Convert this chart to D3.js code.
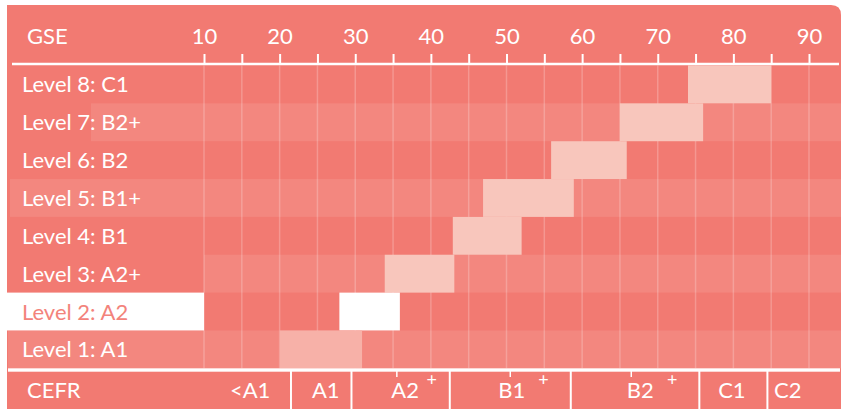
<!DOCTYPE html>
<html>
<head>
<meta charset="utf-8">
<script src="https://cdn.jsdelivr.net/npm/d3@7/dist/d3.min.js"></script>
<style>
  html, body { margin: 0; padding: 0; background: #fff; }
  svg { display: block; }
  text { font-family: Lato, "Open Sans", sans-serif; }
</style>
</head>
<body>
<svg id="chart" width="842" height="409"></svg>
<script>
// ---- data ----
const levels = ["Level 8: C1", "Level 7: B2+", "Level 6: B2", "Level 5: B1+",
                "Level 4: B1", "Level 3: A2+", "Level 2: A2", "Level 1: A1"];
const gseStart = [74, 65, 55.9, 46.9, 42.9, 33.9, 27.9, 20.05];
const gseEnd   = [85, 76, 65.9, 58.9, 52, 43.1, 35.9, 30.9];
const gseTicks = [10, 20, 30, 40, 50, 60, 70, 80, 90];
const cefrBounds = [21.5, 29.5, 42.5, 58.5, 75.5, 84.5];
const cefrPlusTicks = [35.5, 50.5, 66.5];
const cefrLabels = ["<A1", "A1", "A2", "B1", "B2", "C1", "C2"];
const cefrLabelPos = [16.1, 26.1, 36.6, 50.7, 67.7, 79.8, 87.2];
const plusPos = [40.1, 54.9, 71.9];

// ---- styles ----
const BG = "#F27A72";
const LIGHT = "#F3877F";
const BAR = "#F8C6BC";
const BAR1 = "#F7B1A8";
const FS = 22;

const svg = d3.select("#chart");

const x = d3.scaleLinear().domain([10, 90]).range([204, 809]);
const y = d3.scaleBand().domain(levels).range([65.5, 368.3]).padding(0);

// background with rounded top-right corner
svg.append("path")
  .attr("d", "M7,5 H831 Q841,5 841,15 V409 H7 Z")
  .attr("fill", BG);

// light alternating row bands
const bandStartPx = {"Level 7: B2+": 91, "Level 5: B1+": 10, "Level 3: A2+": 204, "Level 1: A1": 8};
svg.append("g").selectAll("rect")
  .data(levels.filter(l => bandStartPx[l] !== undefined))
  .join("rect")
  .attr("x", d => bandStartPx[d])
  .attr("y", d => y(d))
  .attr("width", d => 841 - bandStartPx[d])
  .attr("height", y.bandwidth())
  .attr("fill", LIGHT);

// white label area for level 2
svg.append("rect")
  .attr("x", 7).attr("y", y("Level 2: A2"))
  .attr("width", x(10) - 7).attr("height", y.bandwidth())
  .attr("fill", "#fff");

// gridlines
svg.append("g").selectAll("line")
  .data(d3.range(10, 91, 5))
  .join("line")
  .attr("x1", d => x(d)).attr("x2", d => x(d))
  .attr("y1", y.range()[0]).attr("y2", y.range()[1])
  .attr("stroke", "rgba(255,255,255,0.22)")
  .attr("stroke-width", 1.5);

// bars
svg.append("g").selectAll("rect")
  .data(levels)
  .join("rect")
  .attr("x", (d, i) => x(gseStart[i]))
  .attr("y", d => y(d))
  .attr("width", (d, i) => x(gseEnd[i]) - x(gseStart[i]))
  .attr("height", y.bandwidth())
  .attr("fill", (d, i) => d === "Level 2: A2" ? "#fff" : (i === levels.length - 1 ? BAR1 : BAR));

// row labels
svg.append("g").selectAll("text")
  .data(levels)
  .join("text")
  .attr("x", 22)
  .attr("y", d => y(d) + y.bandwidth() / 2 + 8)
  .attr("font-size", FS)
  .attr("fill", d => d === "Level 2: A2" ? "#F3837B" : "#fff")
  .text(d => d);

// top axis (GSE)
svg.append("line")
  .attr("x1", 12).attr("x2", 839)
  .attr("y1", 64).attr("y2", 64)
  .attr("stroke", "#fff").attr("stroke-width", 2.6);

const axis = d3.axisTop(x)
  .tickValues(d3.range(10, 91, 5))
  .tickSize(10)
  .tickPadding(10)
  .tickFormat(d => gseTicks.includes(d) ? String(d) : "");
const ag = svg.append("g").attr("transform", "translate(0,64)").call(axis);
ag.select(".domain").remove();
ag.selectAll(".tick line").attr("stroke", "#fff").attr("stroke-width", 2);
ag.selectAll(".tick text").attr("fill", "#fff").attr("font-size", FS)
  .attr("font-family", "Lato, 'Open Sans', sans-serif");

svg.append("text").attr("x", 27).attr("y", 44)
  .attr("font-size", FS).attr("fill", "#fff").text("GSE");

// bottom separator
svg.append("rect")
  .attr("x", 8).attr("y", 368.3).attr("width", 832).attr("height", 3.4)
  .attr("fill", "#fff");

// CEFR row
svg.append("text").attr("x", 27).attr("y", 398)
  .attr("font-size", FS).attr("fill", "#fff").text("CEFR");

svg.append("g").selectAll("line")
  .data(cefrBounds)
  .join("line")
  .attr("x1", d => x(d)).attr("x2", d => x(d))
  .attr("y1", 371).attr("y2", 409)
  .attr("stroke", "#fff").attr("stroke-width", 2);

svg.append("g").selectAll("line")
  .data(cefrPlusTicks)
  .join("line")
  .attr("x1", d => x(d)).attr("x2", d => x(d))
  .attr("y1", 371).attr("y2", 377)
  .attr("stroke", "#fff").attr("stroke-width", 1.5);

svg.append("g").selectAll("text")
  .data(cefrLabels)
  .join("text")
  .attr("x", (d, i) => x(cefrLabelPos[i]))
  .attr("y", 398)
  .attr("text-anchor", "middle")
  .attr("font-size", FS).attr("fill", "#fff")
  .text(d => d);

svg.append("g").selectAll("text")
  .data(plusPos)
  .join("text")
  .attr("x", d => x(d))
  .attr("y", 386)
  .attr("text-anchor", "middle")
  .attr("font-size", 18).attr("fill", "#fff")
  .text("+");
</script>
</body>
</html>
